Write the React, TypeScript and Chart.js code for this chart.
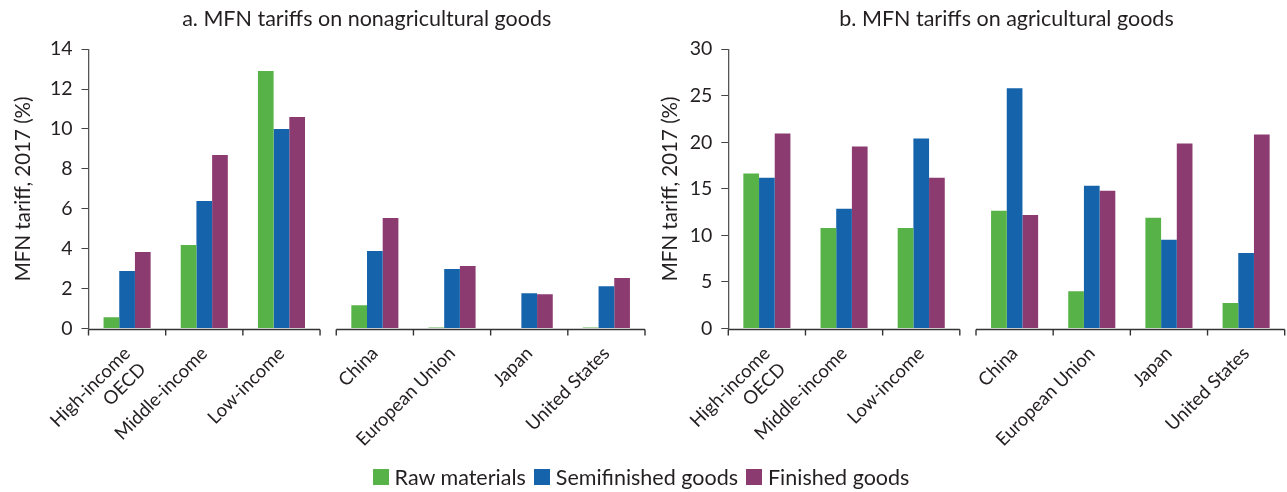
import React, { useEffect, useRef } from "react";
import { Chart, registerables } from "chart.js";

Chart.register(...registerables);

// ---------- data ----------
const categories: (string | string[])[] = [
  ["High-income", "OECD"],
  "Middle-income",
  "Low-income",
  "China",
  "European Union",
  "Japan",
  "United States",
];
const firstGroupSize = 3; // income groups, then economies
const seriesNames = ["Raw materials", "Semifinished goods", "Finished goods"];
const seriesColors = ["#57b247", "#1563ab", "#8c3b70"];

const nonagRaw = [0.57, 4.18, 12.91, 1.17, 0.05, 0.02, 0.05];
const nonagSemi = [2.88, 6.39, 10.0, 3.88, 2.98, 1.77, 2.12];
const nonagFin = [3.83, 8.7, 10.6, 5.54, 3.13, 1.72, 2.53];

const agRaw = [16.64, 10.8, 10.8, 12.65, 4.0, 11.9, 2.73];
const agSemi = [16.2, 12.86, 20.4, 25.8, 15.34, 9.52, 8.12];
const agFin = [20.95, 19.55, 16.2, 12.2, 14.8, 19.87, 20.84];

const nonagTitle = "a. MFN tariffs on nonagricultural goods";
const agTitle = "b. MFN tariffs on agricultural goods";
const yTitle = "MFN tariff, 2017 (%)";
const nonagMax = 14;
const nonagStep = 2;
const agMax = 30;
const agStep = 5;

// ---------- layout helpers ----------
const GAP = 0.21;
const xPos = (i: number) => i + 0.5 + (i >= firstGroupSize ? GAP : 0);
const X_MAX = categories.length + GAP;
const segments: [number, number][] = [
  [0, firstGroupSize],
  [firstGroupSize + GAP, categories.length + GAP],
];

const FONT = "Lato, 'Open Sans', sans-serif";
const TEXT = "#231f20";

const axisSegmentsPlugin = {
  id: "axisSegments",
  afterDraw(chart: any) {
    const { ctx, chartArea } = chart;
    const x = chart.scales.x;
    const y = Math.round(chartArea.bottom) + 0.5;
    ctx.save();
    ctx.strokeStyle = "#333";
    ctx.lineWidth = 1.4;
    segments.forEach(([a, b]) => {
      const x0 = x.getPixelForValue(a);
      const x1 = x.getPixelForValue(b);
      ctx.beginPath();
      ctx.moveTo(x0, y);
      ctx.lineTo(x1, y);
      ctx.stroke();
      for (let v = a; v <= b + 1e-6; v += 1) {
        const px = x.getPixelForValue(v);
        ctx.beginPath();
        ctx.moveTo(px, y);
        ctx.lineTo(px, y + 6);
        ctx.stroke();
      }
    });
    ctx.restore();
  },
};

type PanelProps = {
  width: number;
  height: number;
  raw: number[];
  semi: number[];
  fin: number[];
  title: string;
  max: number;
  step: number;
  yAxisWidth: number;
  padRight: number;
  yTitlePad: number;
};

function Panel(p: PanelProps) {
  const ref = useRef<HTMLCanvasElement | null>(null);
  useEffect(() => {
    if (!ref.current) return;
    const series = [p.raw, p.semi, p.fin];
    const chart = new Chart(ref.current, {
      type: "bar",
      data: {
        datasets: series.map((vals, si) => ({
          label: seriesNames[si],
          data: vals.map((v, i) => ({ x: xPos(i), y: v })),
          backgroundColor: seriesColors[si],
          borderWidth: 0,
          categoryPercentage: 0.61,
          barPercentage: 1,
        })),
      },
      options: {
        responsive: false,
        animation: false,
        layout: { padding: { left: 0, right: p.padRight, top: 0, bottom: 0 } },
        plugins: {
          legend: { display: false },
          tooltip: { enabled: false },
          title: {
            display: true,
            text: p.title,
            fullSize: false,
            color: TEXT,
            font: { family: FONT, size: 21.5, weight: "normal", lineHeight: 1.1 },
            padding: { top: 7, bottom: 18.5 },
          },
        },
        scales: {
          x: {
            type: "linear",
            min: 0,
            max: X_MAX,
            offset: false,
            grid: { display: false, drawTicks: false },
            border: { display: false },
            afterBuildTicks: (scale: any) => {
              scale.ticks = categories.map((_, i) => ({ value: xPos(i) }));
            },
            afterFit: (scale: any) => {
              scale.height = p.height - 328.5;
            },
            ticks: {
              autoSkip: false,
              minRotation: 45,
              maxRotation: 45,
              padding: 14,
              color: TEXT,
              font: { family: FONT, size: 18.5 },
              callback: (_v: any, i: number) => categories[i],
            },
          },
          y: {
            min: 0,
            max: p.max,
            grid: {
              display: true,
              drawOnChartArea: false,
              drawTicks: true,
              tickLength: 7,
              color: "#444",
            },
            border: { display: true, color: "#555", width: 1.3 },
            afterFit: (scale: any) => {
              scale.width = p.yAxisWidth;
            },
            ticks: {
              stepSize: p.step,
              padding: 9,
              color: TEXT,
              font: { family: FONT, size: 19.5 },
            },
            title: {
              display: true,
              text: yTitle,
              color: TEXT,
              font: { family: FONT, size: 20.5, weight: "normal" },
              padding: { top: p.yTitlePad, bottom: 0 },
            },
          },
        },
      },
      plugins: [axisSegmentsPlugin],
    } as any);
    return () => chart.destroy();
  }, []);
  return (
    <canvas
      ref={ref}
      width={p.width}
      height={p.height}
      style={{ width: p.width, height: p.height, display: "block" }}
    />
  );
}

export default function App() {
  const H = 492;
  return (
    <div
      style={{
        position: "absolute",
        left: 0,
        top: 0,
        width: 1287,
        height: H,
        background: "#fff",
        overflow: "hidden",
      }}
    >
      <div style={{ position: "absolute", left: 0, top: 0 }}>
        <Panel
          width={650}
          height={H}
          raw={nonagRaw}
          semi={nonagSemi}
          fin={nonagFin}
          title={nonagTitle}
          max={nonagMax}
          step={nonagStep}
          yAxisWidth={88.5}
          padRight={5}
          yTitlePad={11}
        />
      </div>
      <div style={{ position: "absolute", left: 650, top: 0 }}>
        <Panel
          width={637}
          height={H}
          raw={agRaw}
          semi={agSemi}
          fin={agFin}
          title={agTitle}
          max={agMax}
          step={agStep}
          yAxisWidth={78.3}
          padRight={2.3}
          yTitlePad={8}
        />
      </div>
      <div
        style={{
          position: "absolute",
          left: 0,
          top: 464,
          width: 1290,
          display: "flex",
          justifyContent: "center",
          alignItems: "center",
          fontFamily: FONT,
          fontSize: 21.5,
          color: TEXT,
        }}
      >
        {seriesNames.map((n, i) => (
          <div key={n} style={{ display: "flex", alignItems: "center", marginRight: 8 }}>
            <span
              style={{
                display: "inline-block",
                width: 16,
                height: 16,
                background: seriesColors[i],
                marginRight: 6,
              }}
            />
            <span>{n}</span>
          </div>
        ))}
      </div>
    </div>
  );
}
